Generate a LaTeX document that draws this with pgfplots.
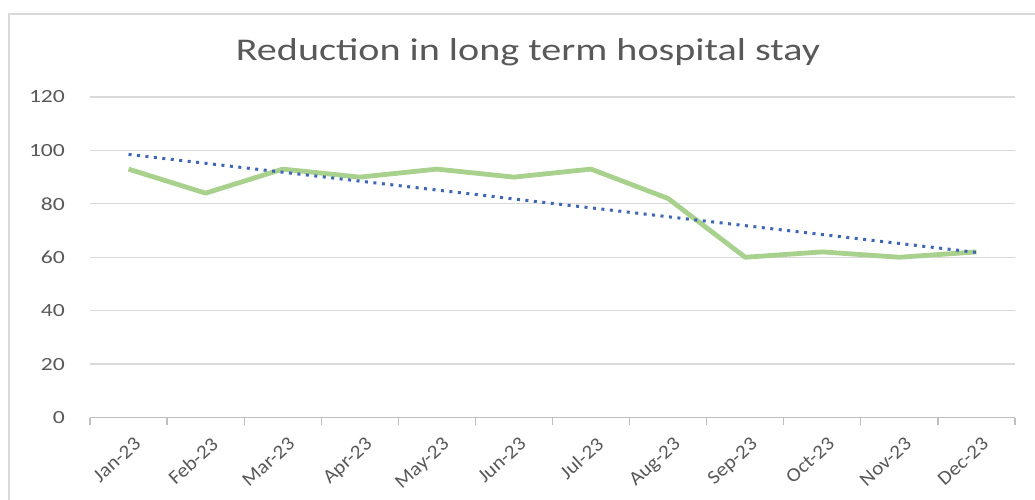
\documentclass[border=0pt]{standalone}
\usepackage{pgfplots}
\usepackage{pgfplotstable}
\pgfplotsset{compat=1.18}
\usepackage{fontspec}
\setmainfont{Carlito}[FakeStretch=1.27]
\newfontfamily\xlabfont{Carlito}[FakeStretch=1.08]
\definecolor{txtgrey}{HTML}{595959}
\definecolor{gridgrey}{HTML}{D9D9D9}
\definecolor{axgrey}{HTML}{BFBFBF}
\definecolor{lgreen}{HTML}{A9D18E}
\definecolor{tblue}{HTML}{3F65B5}
\pgfplotstableread{
x y
1 93
2 84
3 93
4 90
5 93
6 90
7 93
8 82
9 60
10 62
11 60
12 62
}\data
\begin{document}
\begin{tikzpicture}
\useasboundingbox[fill=white] (0,0) rectangle (517.5pt,249.5pt);
\draw[gridgrey, line width=0.75pt] (4.5pt,-10pt) -- (4.5pt,242.5pt) -- (540pt,242.5pt);
\node[font=\fontsize{15.8}{18}\selectfont, text=txtgrey] at (264pt,223.5pt) {Reduction in long term hospital stay};
\begin{axis}[
  at={(45pt,40.75pt)}, anchor=south west,
  scale only axis, width=462.5pt, height=160.25pt,
  xmin=0.5, xmax=12.5, ymin=0, ymax=120,
  ytick={0,20,...,120},
  xtick={1,...,12},
  xticklabels={Jan-23,Feb-23,Mar-23,Apr-23,May-23,Jun-23,Jul-23,Aug-23,Sep-23,Oct-23,Nov-23,Dec-23},
  minor xtick={0.5,1.5,...,12.5},
  axis x line*=bottom, axis y line*=left,
  y axis line style={draw=none},
  x axis line style={axgrey, line width=0.6pt, -},
  ymajorgrids, grid style={gridgrey, line width=0.6pt},
  major tick length=0pt, minor tick length=3.5pt,
  tick align=outside,
  minor x tick style={axgrey, line width=0.6pt},
  major tick style={draw=none},
  xtick pos=bottom, ytick pos=left,
  tick label style={font=\fontsize{9.3}{11}\selectfont, text=txtgrey},
  /pgf/number format/assume math mode=true,
  yticklabel style={xshift=-9pt},
  xticklabel style={font=\xlabfont\fontsize{9.8}{11}\selectfont, rotate=42, anchor=north east, yshift=-5pt, xshift=-1pt},
  clip=false,
]
\addplot[lgreen, line width=2.4pt, line join=round] table[x=x, y=y] {\data};
\addplot[tblue, line width=1.5pt, dash pattern=on 1.5pt off 2.75pt] table[x=x, y={create col/linear regression={y=y}}] {\data};
\end{axis}
\end{tikzpicture}
\end{document}
